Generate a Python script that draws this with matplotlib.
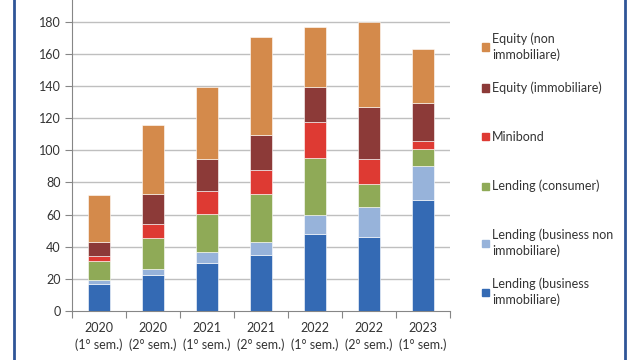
import numpy as np
import matplotlib.pyplot as plt
from matplotlib.patches import Rectangle
from matplotlib.lines import Line2D

plt.rcParams['font.family'] = ['Lato', 'DejaVu Sans']

periodi = ['2020\n(1° sem.)', '2020\n(2° sem.)', '2021\n(1° sem.)', '2021\n(2° sem.)',
           '2022\n(1° sem.)', '2022\n(2° sem.)', '2023\n(1° sem.)']

lend_bus_imm = [17, 22.6, 30, 35, 48, 46.3, 69]
lend_bus_non = [2, 3.4, 7, 8, 12, 18.3, 21.2]
lend_consumer = [12, 19.5, 23.2, 29.8, 35.2, 14.4, 10.4]
minibond = [3, 8.5, 14.3, 15.2, 22.5, 15.4, 5.3]
equity_imm = [9.2, 18.6, 19.9, 21.8, 21.9, 32.8, 23.8]
equity_non = [29, 43.4, 45.1, 60.8, 37, 52.6, 33.5]

serie = [lend_bus_imm, lend_bus_non, lend_consumer, minibond, equity_imm, equity_non]
nomi = ['Lending (business\nimmobiliare)', 'Lending (business non\nimmobiliare)',
        'Lending (consumer)', 'Minibond', 'Equity (immobiliare)', 'Equity (non\nimmobiliare)']
colori = ['#346AB4', '#97B3DA', '#8FAA57', '#DE3A33', '#8C3A38', '#D48A4B']

W, H = 640, 360
fig = plt.figure(figsize=(6.4, 3.6), dpi=100)
ax = fig.add_axes([72 / W, 1 - 311 / H, (450 - 72) / W, 311 / H])

x = np.arange(len(periodi))
base = np.zeros(len(periodi))
for vals, col in zip(serie, colori):
    ax.bar(x, vals, bottom=base, width=0.39, color=col, edgecolor='white', linewidth=0.4, zorder=3)
    base += np.array(vals)

ax.set_xlim(-0.5, len(periodi) - 0.5)
ax.set_ylim(0, 193.6)
ax.set_yticks(np.arange(0, 181, 20))
for yv in np.arange(20, 181, 20):
    ax.axhline(yv, color='#BFBFBF', linewidth=1, zorder=1)

ax.set_xticks(x)
ax.set_xticklabels(periodi, fontsize=9, color='#333333', linespacing=1.45)
ax.set_xticks(np.arange(-0.5, len(periodi)), minor=True)
ax.tick_params(axis='x', which='major', length=0, pad=8)
ax.tick_params(axis='x', which='minor', length=5, color='#868686', width=0.8)
ax.tick_params(axis='y', length=5, color='#868686', width=0.8, labelsize=9, labelcolor='#333333', pad=3)

for s in ['top', 'right']:
    ax.spines[s].set_visible(False)
for s in ['left', 'bottom']:
    ax.spines[s].set_color('#868686')
    ax.spines[s].set_linewidth(0.8)

# legend drawn by hand, Excel style spacing
leg_y = [292, 243, 186, 137, 88, 47]
for nome, col, yc in zip(nomi, colori, leg_y):
    fig.patches.append(Rectangle((482 / W, 1 - (yc + 3.5) / H), 7 / W, 7 / H,
                                 transform=fig.transFigure, color=col))
    fig.text(492 / W, 1 - yc / H, nome, fontsize=9, color='#333333', va='center', ha='left',
             linespacing=1.35)

# blue frame lines
for xl in [14, 625]:
    fig.add_artist(Line2D([xl / W, xl / W], [0, 1], transform=fig.transFigure,
                          color='#2F5597', linewidth=2))

fig.savefig('out.png', dpi=100)
